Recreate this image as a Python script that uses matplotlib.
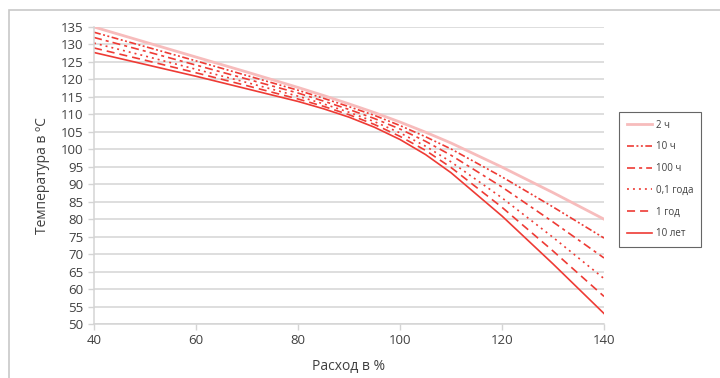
import matplotlib.pyplot as plt
from matplotlib.patches import Rectangle

plt.rcParams['font.family'] = ['Open Sans', 'DejaVu Sans']
plt.rcParams['lines.scale_dashes'] = False

flow = [40, 50, 60, 70, 80, 85, 90, 95, 100, 105, 110, 120, 130, 140]
t_2h = [135, 130.7, 126.4, 122.1, 117.7, 115.4, 113.0, 110.5, 107.8, 104.9, 101.8, 94.9, 87.6, 80]
t_10h = [133.5, 129.4, 125.3, 121.1, 116.9, 114.6, 112.2, 109.7, 106.8, 103.6, 100.1, 92.1, 83.5, 74.6]
t_100h = [132.0, 128.1, 124.1, 120.1, 116.1, 113.8, 111.4, 108.8, 105.8, 102.3, 98.3, 89.2, 79.2, 68.9]
t_01y = [130.4, 126.7, 122.9, 119.1, 115.2, 113.0, 110.6, 107.9, 104.7, 100.9, 96.4, 86.1, 74.8, 63.0]
t_1y = [129.0, 125.5, 121.9, 118.2, 114.4, 112.3, 109.9, 107.1, 103.7, 99.7, 94.8, 83.4, 70.9, 57.9]
t_10y = [127.7, 124.3, 120.9, 117.3, 113.7, 111.6, 109.2, 106.3, 102.8, 98.5, 93.3, 80.9, 67.2, 53.0]

labels = ['2 ч', '10 ч', '100 ч', '0,1 года', '1 год', '10 лет']

red = '#ee3b35'
pink = '#f7bcbc'

fig = plt.figure(figsize=(7.2, 3.78), dpi=100)
ax = fig.add_axes([94 / 720, 1 - 324 / 378, 510 / 720, 297 / 378])

# outer frame
fig.patches.append(Rectangle((9 / 720, -0.1), 1.2, 1 - 10 / 378 + 0.1,
                             transform=fig.transFigure, fill=False,
                             edgecolor='#c8c8c8', linewidth=1.2))

ax.plot(flow, t_2h, color=pink, lw=2.0, label=labels[0])
ax.plot(flow, t_10h, color=red, lw=1.2, dashes=(5, 1.8, 1.4, 1.8, 1.4, 1.8), label=labels[1])
ax.plot(flow, t_100h, color=red, lw=1.2, dashes=(5.8, 2.9, 2.2, 2.9), label=labels[2])
ax.plot(flow, t_01y, color=red, lw=1.2, dashes=(1.4, 2.9), label=labels[3])
ax.plot(flow, t_1y, color=red, lw=1.2, dashes=(5.8, 3.6), label=labels[4])
ax.plot(flow, t_10y, color=red, lw=1.2, label=labels[5])

ax.set_xlim(40, 140)
ax.set_ylim(50, 135)
ax.set_xticks(range(40, 141, 20))
ax.set_yticks(range(50, 136, 5))
ax.grid(axis='y', color='#d4d4d4', lw=1.1)
ax.set_axisbelow(True)
for s in ['top', 'right']:
    ax.spines[s].set_visible(False)
for s in ['left', 'bottom']:
    ax.spines[s].set_color('#d4d4d4')
    ax.spines[s].set_linewidth(1.1)
ax.tick_params(colors='#d4d4d4', labelcolor='#404040', labelsize=9.5, length=4, width=1)

ax.set_xlabel('Расход в %', fontsize=10, color='#404040', labelpad=8)
ax.set_ylabel('Температура в ºС', fontsize=10, color='#404040', labelpad=8)

leg = ax.legend(loc='upper left', bbox_to_anchor=(619 / 720, 1 - 112 / 378),
                bbox_transform=fig.transFigure, fontsize=7, frameon=True,
                fancybox=False, handlelength=2.6, labelspacing=1.1,
                borderpad=0.8, handletextpad=0.4, labelcolor='#404040',
                borderaxespad=0)
leg.get_frame().set_edgecolor('#404040')
leg.get_frame().set_linewidth(0.8)

fig.savefig('out.png', dpi=100)
